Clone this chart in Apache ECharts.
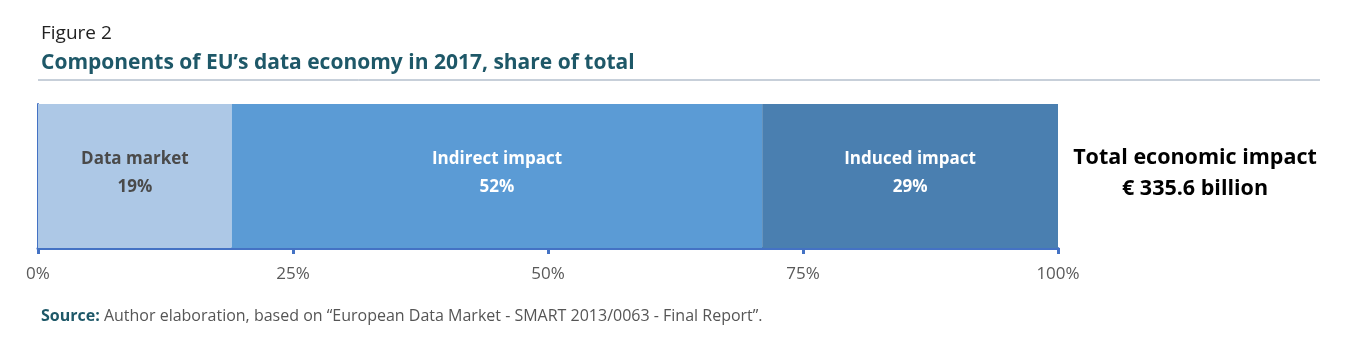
<!DOCTYPE html>
<html><head><meta charset="utf-8">
<script src="https://cdn.jsdelivr.net/npm/echarts@6/dist/echarts.min.js"></script>
<style>html,body{margin:0;padding:0;background:#fff}#c{width:1346px;height:345px}</style>
</head><body><div id="c"></div>
<script>
const categories = ['Data market', 'Indirect impact', 'Induced impact'];
const shares = [19, 52, 29];
const tickLabels = ['0%', '25%', '50%', '75%', '100%'];
const colors = ['#ADC8E6', '#5B9BD5', '#4A7FB0'];
const labelColors = ['#4A4A4A', '#FFFFFF', '#FFFFFF'];
const totalText = ['Total economic impact', '€ 335.6 billion'];

const chart = echarts.init(document.getElementById('c'));
const FONT = 'Open Sans';
const series = categories.map((name, i) => ({
  name, type: 'bar', stack: 'total', barWidth: '100%',
  data: [shares[i]],
  itemStyle: { color: colors[i] },
  label: {
    show: true, position: 'inside', offset: [0, -3], formatter: name + '\n' + shares[i] + '%',
    color: labelColors[i], fontFamily: FONT, fontWeight: 'bold', fontSize: 17, lineHeight: 28
  }
}));
chart.setOption({
  animation: false,
  title: [
    { text: 'Figure 2', left: 36, top: 19, textStyle: { fontFamily: FONT, fontWeight: 'normal', fontSize: 19, color: '#222' } },
    { text: 'Components of EU\u2019s data economy in 2017, share of total', left: 36, top: 48, textStyle: { fontFamily: FONT, fontWeight: 'bold', fontSize: 21, color: '#1E5868' } },
    { text: '{b|Source:} Author elaboration, based on \u201cEuropean Data Market - SMART 2013/0063 - Final Report\u201d.', left: 36, top: 303,
      textStyle: { fontFamily: FONT, fontWeight: 'normal', fontSize: 16, color: '#555', rich: { b: { fontFamily: FONT, fontWeight: 'bold', fontSize: 16, color: '#1E5868' } } } },
    { text: totalText.join('\n'), left: 1190, top: 137, textAlign: 'center',
      textStyle: { fontFamily: FONT, fontWeight: 'bold', fontSize: 21.5, color: '#000', lineHeight: 31, align: 'center' } }
  ],
  graphic: [
    { type: 'line', shape: { x1: 38, y1: 80, x2: 1320, y2: 80 }, style: { stroke: '#8FA0B4', lineWidth: 1 } }
  ],
  grid: { left: 38, right: 288, top: 104, bottom: 97 },
  xAxis: {
    type: 'value', min: 0, max: 100, interval: 25,
    axisLine: { show: true, lineStyle: { color: '#4472C4', width: 3 } },
    axisTick: { show: true, length: 6, lineStyle: { color: '#4472C4', width: 3 } },
    splitLine: { show: false },
    axisLabel: { formatter: v => tickLabels[v / 25], fontFamily: FONT, fontSize: 17, color: '#595959', margin: 18 }
  },
  yAxis: {
    type: 'category', data: ['EU'],
    axisLine: { show: true, lineStyle: { color: '#4472C4', width: 2 } },
    axisTick: { show: false }, axisLabel: { show: false }
  },
  series
});
</script></body></html>
